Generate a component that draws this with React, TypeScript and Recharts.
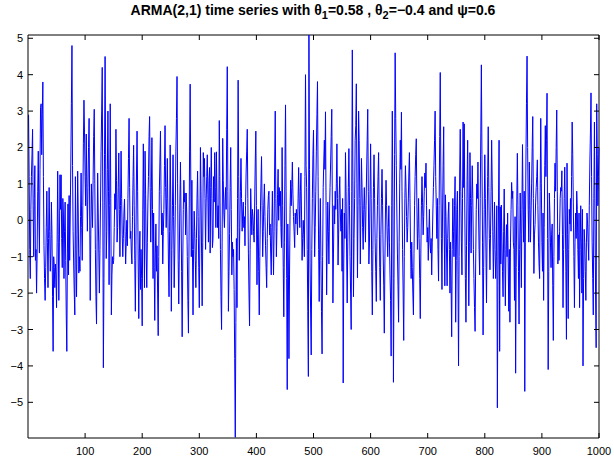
// ARMA(2,1) simulated series, redrawn as a plain MATLAB-style line plot.
import { LineChart, Line, XAxis, YAxis, ReferenceLine } from "recharts";

const W = 614;
const H = 459;
const TOP = 35;
const RIGHT = 15;
const BLUE = "#0000ff";

// values, 100 samples per chunk
const seg1 = [
  2.9, 1.2, -0.8, -1.6, 0.3, 1.2, 1.8, 2.5, 0.4, -1.0,
  0.6, 1.5, -1.1, -0.8, -2.0, -0.9, 0.8, 1.9, 0.2, -0.9,
  1.4, 3.1, 3.2, 1.8, 2.9, 3.8, 1.2, -0.7, -1.6, -2.2,
  -1.3, -0.2, 0.8, -0.6, -1.85, -0.5, 0.9, -0.3, -1.4, -0.9,
  0.5, -0.4, -2.1, -3.6, -1.0, -1.3, -1.85, -1.2, -1.5, -2.4,
  -0.6, 1.35, -0.4, -2.2, -0.6, 1.25, 0.3, 1.25, -0.5, -1.3,
  0.6, 0.2, -1.6, -0.3, 0.5, -1.1, -2.6, -3.6, -0.9, 0.45,
  -1.5, 0.68, -1.1, 0.2, 1.6, 3.2, 4.8, 1.5, -0.3, -1.2,
  -2.0, -2.6, 1.2, -0.8, -2.1, -0.4, 1.35, 0.2, -1.45, -1.0,
  -1.4, 0.1, 1.3, -0.2, -1.1, 0.4, 2.1, 3.3, 2.4, 1.2,
];
const seg2 = [
  0.4, 2.37, 1.0, -0.3, 0.9, 2.0, 2.8, 0.2, -2.2, -0.4,
  1.0, 0.4, -0.2, 1.1, 2.3, 3.05, 1.0, -0.8, -2.1, -2.85,
  -0.6, 1.3, 0.2, -0.9, -2.0, -0.8, 0.5, 1.9, 3.0, 4.2,
  0.5, -4.05, -1.6, 1.8, 4.5, 1.6, -1.05, -0.3, 1.4, 3.0,
  0.8, -1.77, 0.4, 3.2, 0.6, -2.6, -1.5, -1.0, -1.2, -1.1,
  -0.2, 0.73, 0.3, 2.5, 1.1, -0.6, -0.2, 0.9, 1.85, 0.3,
  -1.0, 0.4, 1.9, 0.6, -0.4, -1.0, -0.5, 0.2, 0.58, -0.3,
  -1.2, -0.6, 0.0, -0.7, 0.6, 1.7, 2.8, 0.9, -0.5, -0.3,
  -0.9, -1.2, 0.1, 1.2, 2.06, 0.4, -1.1, -2.5, -0.7, 1.3,
  2.45, 0.8, -1.2, -2.7, -0.9, -0.3, -1.9, -0.8, -1.6, -2.9,
];
const seg3 = [
  0.2, 2.1, 0.3, -1.85, 1.9, 0.7, -0.9, -1.85, -0.6, 0.5,
  1.2, 2.3, 2.85, 0.9, -0.6, 0.8, 2.27, 0.3, -1.6, 0.2,
  -1.3, -2.75, -0.9, -0.1, -1.4, -0.7, -2.0, -3.17, -1.0, 0.8,
  1.6, 2.45, 0.7, -0.4, 0.2, -1.2, -0.3, 0.3, 1.5, 2.6,
  0.9, -0.2, 0.6, 1.7, 0.2, -1.2, -2.1, -0.3, 2.07, 0.5,
  -2.5, -0.8, 0.4, 1.8, 0.1, -1.85, -0.9, 0.4, 1.9, 2.8,
  3.95, 1.0, -1.1, -2.3, -0.9, 0.5, 1.6, 0.2, -1.4, -3.2,
  -1.2, 0.3, 1.1, 0.5, 0.75, -0.4, 0.75, 0.2, -1.0, -2.2,
  -3.1, -0.6, 1.9, 3.74, 1.3, -1.0, 1.1, -0.8, -2.6, -0.8,
  0.25, -0.3, -1.1, -1.85, -0.5, 0.6, 1.35, 0.1, -1.3, -2.4,
];
const seg4 = [
  -0.4, 2.0, 0.8, -0.9, -2.35, -0.6, 1.86, 1.2, 1.7, 0.6,
  -0.8, 0.5, 1.2, 1.8, 0.7, -0.6, 1.1, 1.45, -0.9, 0.9,
  2.0, 0.6, -0.75, -0.5, 1.2, 0.5, 1.86, 0.9, -0.2, 1.88,
  0.5, -0.2, 0.4, -0.5, 2.74, 1.2, -0.8, -2.1, -3.0, -0.6,
  2.25, 1.1, 0.2, -0.2, 0.5, 0.9, 0.3, 2.5, 4.22, 0.8,
  -2.5, -1.4, -0.37, 0.9, 2.0, 0.3, -1.5, -0.6, -1.0, -0.8,
  -1.9, -3.8, -5.96, -2.8, -0.5, -2.4, 0.6, 3.85, 1.2, -1.1,
  -0.2, 0.8, 1.7, 0.6, -0.3, 0.2, 0.5, -0.2, 0.1, -0.7,
  0.4, 1.3, 1.9, 2.5, 0.6, -0.9, -2.0, -2.9, -0.8, 0.87,
  0.2, -0.4, 0.3, 0.1, -0.3, -0.6, 0.5, 1.6, 2.45, 0.4,
];
const seg5 = [
  -1.77, -0.4, 0.3, -1.4, -2.6, -1.0, 0.2, 1.0, 1.75, 0.4,
  -1.0, -0.3, 0.5, 1.0, 0.1, -0.7, -1.3, -1.85, -0.5, 0.3,
  0.68, 0.8, -0.4, -0.1, -0.9, -1.5, -0.2, 0.8, -0.4, -1.5,
  -0.3, 1.6, 3.0, 0.6, -1.0, -0.2, 0.7, 1.4, 0.0, 0.9,
  0.4, 0.8, -0.2, -0.75, 2.0, 0.4, -1.3, -2.65, -0.6, 1.5,
  3.17, 0.8, -1.6, -4.65, -0.1, -1.2, -3.8, -1.5, 0.3, 1.1,
  0.4, 0.9, 1.6, 0.7, 0.1, -0.3, -0.75, 0.2, -0.1, 0.3,
  0.1, -0.4, 0.6, 1.45, 0.4, -0.2, 0.8, 1.3, 0.2, -1.1,
  -0.5, 0.0, -0.4, -1.0, 1.2, 4.0, 1.5, 0.9, -0.8, -2.5,
  -4.29, 5.2, 1.4, -1.2, -2.6, -3.7, -0.8, 0.6, 1.8, 2.48,
];
const seg6 = [
  0.5, -1.0, -0.2, 0.8, 1.9, 2.9, 3.81, 1.2, -0.8, -2.23,
  -0.4, 0.6, -1.1, -2.5, -3.67, -1.0, 0.9, 1.6, 2.2, 1.4,
  2.98, 0.4, -2.05, -0.6, 0.5, -0.3, -1.2, 0.2, 0.9, 1.6,
  2.3, 3.05, 0.5, -2.27, -0.9, 0.4, -0.1, 0.8, 0.3, 1.0,
  2.1, 0.6, -1.23, -0.4, 0.7, 1.2, 0.2, -0.3, 0.3, -1.4,
  0.6, -4.47, -1.2, 0.2, -0.5, 1.86, 0.8, -0.9, -2.27, -0.6,
  0.9, 1.97, 0.4, -1.0, -2.0, -3.0, 0.8, 4.68, 1.1, -2.1,
  -0.5, 0.6, 2.2, 2.6, 3.75, 1.0, -1.58, 0.4, 3.0, 2.2,
  0.6, -1.2, 0.4, 1.7, 0.9, -0.2, -0.8, 0.3, 0.9, 0.2,
  -0.6, 0.4, 1.3, 2.2, 3.05, 0.8, -1.2, -0.6, 0.7, 2.1,
];
const seg7 = [
  0.6, -1.4, -2.6, -0.8, 0.9, 1.8, 0.6, -0.6, -1.4, -2.23,
  -0.5, 0.4, 1.2, 1.86, 0.2, -1.3, -2.2, -0.4, 0.6, 1.4,
  0.4, -0.9, -1.8, -3.1, -1.2, 0.2, 1.1, 0.4, -0.4, -1.0,
  -0.2, 0.4, -0.6, -1.5, -2.2, -3.73, 0.4, 3.0, 0.5, -4.45,
  -1.6, 1.8, 4.6, 2.8, 1.5, 0.2, -0.9, -1.8, -2.8, -0.6,
  1.0, 2.2, 1.4, 2.97, 0.8, -0.8, -2.0, -3.3, -1.0, 0.6,
  1.5, 0.9, 0.1, -0.6, -0.2, 0.5, 1.3, 1.86, 0.6, -0.8,
  -1.6, -0.6, -1.3, -2.0, -2.6, -0.9, 0.4, 1.2, 1.8, 2.24,
  0.5, -0.8, -0.2, 0.6, -0.5, -1.6, -2.7, -0.9, 0.4, 1.2,
  0.5, -0.4, 0.1, 0.8, 1.3, 0.9, 1.57, 0.4, -0.6, -0.2,
];
const seg8 = [
  -1.1, -0.4, 0.3, -0.6, -0.9, -0.5, -1.5, -0.6, 0.2, 0.9,
  1.5, 2.2, 3.0, 1.2, 0.4, -0.5, 0.6, -0.8, -1.67, 0.4,
  2.3, 4.06, 1.3, -0.5, -1.9, 0.2, 1.5, 2.57, -0.4, -1.8,
  0.7, 0.1, -0.9, -1.8, -0.5, 0.2, 0.5, -0.8, -2.0, -0.6,
  -1.8, -3.2, -0.8, 0.6, -0.3, -1.0, 0.4, 1.2, -2.8, -1.1,
  0.3, 0.8, -1.5, -4.0, -1.0, 1.3, 2.5, 0.8, -0.6, -1.5,
  0.6, 2.7, 0.9, 2.65, 0.2, -1.6, -2.8, -0.7, 1.1, 2.2,
  0.2, -2.35, -0.6, 1.86, 0.6, -0.9, 0.4, 1.5, 0.6, -0.8,
  -1.6, -2.4, -3.05, -1.2, 0.3, 1.0, 0.6, 1.6, 0.2, -0.8,
  -1.5, 0.6, 2.4, 4.27, 1.8, -0.6, -3.15, -1.3, 0.3, 1.8,
];
const seg9 = [
  0.6, -0.9, -2.27, -0.4, 1.2, 2.57, 0.9, -0.5, -1.36, -0.4,
  0.8, 2.2, 1.0, -0.3, -1.6, -0.6, 0.5, -0.8, -1.6, -1.0,
  0.4, -5.15, -1.8, 0.4, 2.2, -3.6, 0.37, -1.2, 0.42, -0.6,
  -1.4, -2.1, -0.3, 0.86, -0.9, -2.35, -0.8, -0.12, -1.0, 0.2,
  -1.2, -2.5, -0.8, -2.8, -0.6, 0.3, 1.04, 0.6, 0.8, -0.6,
  -0.8, -2.2, 0.1, -4.2, -1.3, 0.5, 1.84, 0.4, -1.4, -2.85,
  -0.8, 0.75, -0.4, -1.85, 0.3, 2.08, 0.4, -0.6, 0.8, -4.7,
  -0.6, 1.6, 3.2, 4.51, 2.0, 0.3, -0.6, 1.6, 0.4, -0.6,
  0.2, 1.0, 2.0, 2.85, 0.6, -1.46, -0.4, -0.12, 0.5, 0.9,
  1.2, 1.66, 0.4, -0.6, -1.2, -1.6, 0.8, 2.8, 1.0, -0.6,
];
const seg10 = [
  -1.4, 0.2, -2.2, -0.2, 1.5, 2.6, 1.2, 2.2, 3.49, -0.5,
  -4.1, -1.4, 0.75, 0.2, -0.6, -1.3, -0.4, -0.1, -1.8, -3.3,
  -1.0, 0.6, 1.57, 0.8, 2.0, 3.03, 0.8, -1.2, -0.4, -1.1,
  -0.3, 0.6, 0.9, 0.8, 1.36, -0.4, -2.4, -0.8, 0.6, 1.46,
  0.2, -1.4, -3.27, 1.57, -0.4, -2.7, -0.8, 0.3, -0.1, 0.6,
  -0.3, 1.2, 2.7, 1.8, 0.5, -1.0, -2.4, -0.6, 0.2, -0.5,
  0.8, 0.3, -0.8, -1.6, 0.2, -2.4, -0.8, 0.4, -0.6, -2.0,
  0.3, -4.0, -1.6, -0.25, -0.6, -1.4, -2.2, -0.6, 0.2, -0.1,
  -0.6, -1.1, 0.4, 1.6, 2.4, 3.5, 1.2, -0.6, -1.6, -2.6,
  0.6, 2.7, 0.2, -2.0, -3.5, 3.2, 1.8, 0.4, 1.2, 2.0,
];

const xTicks = [100, 200, 300, 400, 500, 600, 700, 800, 900, 1000];
const yTicks = [-5, -4, -3, -2, -1, 0, 1, 2, 3, 4, 5];
const xDomain = [0, 1000];
const yDomain = [-5.98, 5.09];

const series = [seg1, seg2, seg3, seg4, seg5, seg6, seg7, seg8, seg9, seg10].flat();
const rows = series.map((v, i) => ({ t: i + 1, v }));

const FONT = "'Liberation Sans', Arial, Helvetica, sans-serif";

// inward ticks on bottom and top, label below
function XTick(props: any) {
  const { x, y, payload } = props;
  return (
    <g>
      <line x1={x} y1={y} x2={x} y2={y - 5} stroke="#000" />
      <line x1={x} y1={TOP} x2={x} y2={TOP + 5} stroke="#000" />
      <text x={x} y={y + 17} textAnchor="middle" fontSize={11} fontFamily={FONT} fill="#000">
        {payload.value}
      </text>
    </g>
  );
}

// inward ticks on left and right, label to the left
function YTick(props: any) {
  const { x, y, payload } = props;
  const v = payload.value as number;
  return (
    <g>
      <line x1={x} y1={y} x2={x + 5} y2={y} stroke="#000" />
      <line x1={W - RIGHT} y1={y} x2={W - RIGHT - 5} y2={y} stroke="#000" />
      <text x={x - 5} y={y + 4} textAnchor="end" fontSize={11} fontFamily={FONT} fill="#000">
        {v < 0 ? `\u2212${Math.abs(v)}` : v}
      </text>
    </g>
  );
}

export default function App() {
  return (
    <div style={{ position: "relative", width: W, height: H, background: "#fff" }}>
      <style>{"body{margin:0}"}</style>
      <div
        style={{
          position: "absolute",
          left: 313,
          top: 2,
          transform: "translateX(-50%)",
          whiteSpace: "nowrap",
          fontFamily: FONT,
          fontWeight: "bold",
          fontSize: 14,
          lineHeight: "16px",
          color: "#000",
        }}
      >
        ARMA(2,1) time series with θ<sub style={{ fontSize: 11, lineHeight: 0 }}>1</sub>=0.58 , θ
        <sub style={{ fontSize: 11, lineHeight: 0 }}>2</sub>=−0.4 and ψ=0.6
      </div>
      <LineChart
        width={W}
        height={H}
        data={rows}
        margin={{ top: TOP, right: RIGHT, bottom: 0, left: 0 }}
      >
        <XAxis
          dataKey="t"
          type="number"
          domain={xDomain}
          ticks={xTicks}
          height={21}
          tickLine={false}
          tickSize={0}
          tickMargin={0}
          axisLine={{ stroke: "#000" }}
          tick={<XTick />}
          interval={0}
        />
        <YAxis
          type="number"
          domain={yDomain}
          ticks={yTicks}
          allowDataOverflow
          width={28}
          tickLine={false}
          tickSize={0}
          tickMargin={0}
          axisLine={{ stroke: "#000" }}
          tick={<YTick />}
          interval={0}
        />
        <ReferenceLine y={yDomain[1]} stroke="#000" />
        <ReferenceLine x={xDomain[1]} stroke="#000" />
        <Line
          type="linear"
          dataKey="v"
          stroke={BLUE}
          strokeWidth={1}
          dot={false}
          isAnimationActive={false}
        />
      </LineChart>
    </div>
  );
}
